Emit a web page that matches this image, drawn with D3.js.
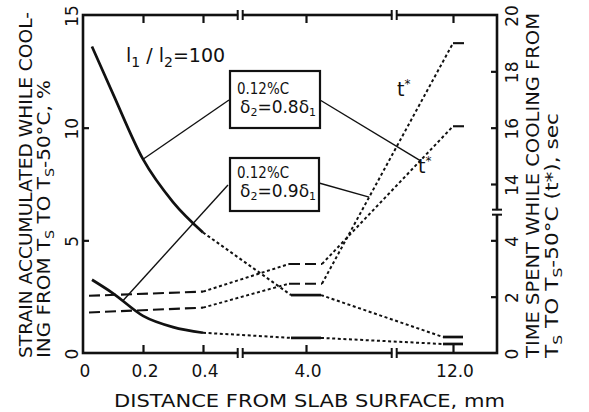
<!DOCTYPE html>
<html lang="en">
<head>
<meta charset="UTF-8">
<title>Strain and cooling time vs distance from slab surface</title>
<script src="https://d3js.org/d3.v7.min.js"></script>
<style>
  body { margin: 0; background: #fff; }
  svg text { font-family: "DejaVu Sans", "Liberation Sans", Arial, sans-serif; fill: #111; }
</style>
</head>
<body>
<div id="chart"></div>
<script>
// distance from slab surface (mm) for the strain curves
const distances = [0.03, 0.1, 0.2, 0.3, 0.4, 4.0, 12.0];
// strain accumulated while cooling (%)
const strain08 = [13.6, 11.5, 8.6, 6.7, 5.35, 2.57, 0.71];   // delta2 = 0.8 delta1
const strain09 = [3.25, 2.65, 1.65, 1.15, 0.9, 0.67, 0.4];   // delta2 = 0.9 delta1
// time spent while cooling t* (sec)
const timeDistances = [0.02, 0.4, 4.0, 12.0];
const time08 = [2.03, 2.18, 3.16, 16.05];
const time09 = [1.44, 1.61, 2.46, 19.0];

const xTicks = [0, 0.2, 0.4, 4.0, 12.0];
const xTickLabels = ["0", "0.2", "0.4", "4.0", "12.0"];
const strainTicks = [0, 5, 10, 15];
const timeTicks = [0, 2, 4, 14, 16, 18, 20];
const xBreaks = [1.7, 8.8];
const timeBreak = 9;

const W = 589, H = 412;
const frame = { left: 83, right: 497, top: 15, bottom: 353 };

const svg = d3.select("#chart").append("svg")
    .attr("width", W).attr("height", H);

// broken x axis: three linear pieces
const x = d3.scaleLinear()
    .domain([0, 0.4, 4.0, 12.0])
    .range([frame.left, 203, 306, 453]);

const yS = d3.scaleLinear().domain([0, 15]).range([frame.bottom, frame.top]);

// broken time axis: 0-4 and 14-20 with equal steps
const step = (frame.bottom - frame.top) / 6;
const yT = d3.scaleLinear()
    .domain([0, 4, 14, 20])
    .range([frame.bottom, frame.bottom - 2 * step, frame.bottom - 3 * step, frame.top]);

// axes (ticks pointing inward), labels drawn separately
const axisStyle = g => {
    g.select(".domain").remove();
    g.selectAll(".tick line").attr("stroke", "#111").attr("stroke-width", 2.2);
    g.selectAll(".tick text").remove();
};

svg.append("g")
    .attr("transform", `translate(0,${frame.bottom})`)
    .call(d3.axisBottom(x).tickValues(xTicks.slice(1)).tickSize(-8))
    .call(axisStyle);
svg.append("g")
    .attr("transform", `translate(0,${frame.top})`)
    .call(d3.axisTop(x).tickValues(xTicks.slice(1)).tickSize(-8))
    .call(axisStyle);
svg.append("g")
    .attr("transform", `translate(${frame.left},0)`)
    .call(d3.axisLeft(yS).tickValues(strainTicks.slice(1, -1)).tickSize(-6))
    .call(axisStyle);
svg.append("g")
    .attr("transform", `translate(${frame.right},0)`)
    .call(d3.axisRight(yT).tickValues(timeTicks.slice(1, -1)).tickSize(-6))
    .call(axisStyle);

// tick labels (y labels read bottom-to-top like the titles)
svg.selectAll(".xlab").data(xTicks).join("text")
    .attr("class", "xlab")
    .attr("x", d => x(d) + 2).attr("y", 377)
    .attr("text-anchor", "middle")
    .style("font-size", "17px")
    .text((d, i) => xTickLabels[i]);

svg.selectAll(".slab").data(strainTicks).join("text")
    .attr("class", "slab")
    .attr("transform", d => `translate(${frame.left - 5},${yS(d) + 1}) rotate(-90)`)
    .attr("text-anchor", "middle")
    .style("font-size", "17px")
    .text(d => d);

svg.selectAll(".tlab").data(timeTicks).join("text")
    .attr("class", "tlab")
    .attr("transform", d => `translate(${frame.right + 21},${yT(d) + 1}) rotate(-90)`)
    .attr("text-anchor", "middle")
    .style("font-size", "17px")
    .text(d => d);

// frame
svg.append("rect")
    .attr("x", frame.left).attr("y", frame.top)
    .attr("width", frame.right - frame.left)
    .attr("height", frame.bottom - frame.top)
    .attr("fill", "none").attr("stroke", "#111").attr("stroke-width", 2.6);

// axis break marks
function hBreak(px, py) {
    svg.append("rect").attr("x", px - 2).attr("y", py - 3).attr("width", 4).attr("height", 6).attr("fill", "#fff");
    [-2.5, 2.5].forEach(o => svg.append("line")
        .attr("x1", px + o).attr("x2", px + o).attr("y1", py - 5).attr("y2", py + 5)
        .attr("stroke", "#111").attr("stroke-width", 2));
}
function vBreak(px, py) {
    svg.append("rect").attr("x", px - 3).attr("y", py - 2).attr("width", 6).attr("height", 4).attr("fill", "#fff");
    [-2.5, 2.5].forEach(o => svg.append("line")
        .attr("x1", px - 5).attr("x2", px + 5).attr("y1", py + o).attr("y2", py + o)
        .attr("stroke", "#111").attr("stroke-width", 2));
}
xBreaks.forEach(d => { hBreak(x(d), frame.bottom); hBreak(x(d), frame.top); });
vBreak(frame.right, yT(timeBreak));

// curves
const line = d3.line();
const smooth = d3.line().curve(d3.curveMonotoneX);
const styles = {
    solid: { w: 2.7, dash: null },
    dashed: { w: 2.1, dash: "11,5" },
    dotted: { w: 2, dash: "3,2.6" }
};
function seg(pts, kind, gen) {
    const s = styles[kind];
    svg.append("path")
        .attr("d", (gen || line)(pts))
        .attr("fill", "none").attr("stroke", "#111")
        .attr("stroke-width", s.w)
        .attr("stroke-dasharray", s.dash);
}
const lerp = (p, q, t) => [p[0] + (q[0] - p[0]) * t, p[1] + (q[1] - p[1]) * t];

const strainFlat = [[-15, 15], [-10, 10]];
function drawStrain(vals) {
    const pts = distances.map((d, i) => [x(d), yS(vals[i])]);
    const [p4, p5, p6] = [pts[4], pts[5], pts[6]];
    const a5 = [p5[0] + strainFlat[0][0], p5[1]], b5 = [p5[0] + strainFlat[0][1], p5[1]];
    const a6 = [p6[0] + strainFlat[1][0], p6[1]], b6 = [p6[0] + strainFlat[1][1], p6[1]];
    seg(pts.slice(0, 5), "solid", smooth);
    seg([p4, a5], "dotted");
    seg([a5, b5], "solid");
    seg([b5, a6], "dotted");
    seg([a6, b6], "solid");
    return pts;
}

const timeFlat = [[-17, 16], [0, 15]];
function drawTime(vals) {
    const pts = timeDistances.map((d, i) => [x(d), yT(vals[i])]);
    const [p0, p1, p2, p3] = pts;
    const a2 = [p2[0] + timeFlat[0][0], p2[1]], b2 = [p2[0] + timeFlat[0][1], p2[1]];
    const a3 = [p3[0] + timeFlat[1][0], p3[1]], b3 = [p3[0] + timeFlat[1][1], p3[1]];
    seg([p0, p1], "dashed");
    seg([p1, a2], "dotted");
    seg([a2, b2], "dashed");
    seg([b2, a3], "dotted");
    seg([a3, b3], "dashed");
    return { rise: [b2, a3] };
}

const s08 = drawStrain(strain08);
const s09 = drawStrain(strain09);
const t08 = drawTime(time08);
const t09 = drawTime(time09);

// annotation boxes and leaders
const boxes = [
    { x0: 230, y0: 71, x1: 320, y1: 128, l1: 94, l2: 113, digit: "0.8",
      left: [229, 100], leftTo: s08[2],
      right: [320, 100], rightTo: lerp(t08.rise[0], t08.rise[1], 0.75) },
    { x0: 230, y0: 158, x1: 319, y1: 211, l1: 178, l2: 197, digit: "0.9",
      left: [228, 185], leftTo: lerp(s09[1], s09[2], 0.33),
      right: [319, 183], rightTo: lerp(t09.rise[0], t09.rise[1], 0.36) }
];
boxes.forEach(b => {
    [[b.left, b.leftTo], [b.right, b.rightTo]].forEach(([p, q]) =>
        svg.append("line").attr("x1", p[0]).attr("y1", p[1]).attr("x2", q[0]).attr("y2", q[1])
            .attr("stroke", "#111").attr("stroke-width", 1.4));
    svg.append("rect").attr("x", b.x0).attr("y", b.y0)
        .attr("width", b.x1 - b.x0).attr("height", b.y1 - b.y0)
        .attr("fill", "#fff").attr("stroke", "#111").attr("stroke-width", 2.2);
    svg.append("text").attr("x", b.x0 + 7).attr("y", b.l1)
        .attr("textLength", 52).attr("lengthAdjust", "spacingAndGlyphs")
        .style("font-size", "16px").text("0.12%C");
    const t = svg.append("text").attr("x", b.x0 + 10).attr("y", b.l2)
        .style("font-size", "17px");
    t.append("tspan").text("δ");
    t.append("tspan").attr("dy", 3).style("font-size", "11px").text("2");
    t.append("tspan").attr("dy", -3).text("=" + b.digit + "δ");
    t.append("tspan").attr("dy", 3).style("font-size", "11px").text("1");
});

// l1 / l2 = 100
const lt = svg.append("text").attr("x", 126).attr("y", 62)
    .style("font-size", "19px");
lt.append("tspan").text("l");
lt.append("tspan").attr("dy", 5).style("font-size", "14px").text("1");
lt.append("tspan").attr("dy", -5).text(" / l");
lt.append("tspan").attr("dy", 5).style("font-size", "14px").text("2");
lt.append("tspan").attr("dy", -5).text("=100");

// t* labels
[[397, 96], [418, 173]].forEach(([tx, ty]) => {
    const tt = svg.append("text").attr("x", tx).attr("y", ty).style("font-size", "19px");
    tt.append("tspan").text("t");
    tt.append("tspan").attr("dy", -8).style("font-size", "12px").text("*");
});

// axis titles
svg.append("text").attr("x", 114).attr("y", 407)
    .attr("textLength", 391).attr("lengthAdjust", "spacingAndGlyphs")
    .style("font-size", "18px").text("DISTANCE FROM SLAB SURFACE, mm");

function vTitle(bx, parts, len) {
    const t = svg.append("text")
        .attr("transform", `translate(${bx},358) rotate(-90)`)
        .attr("textLength", len).attr("lengthAdjust", "spacingAndGlyphs")
        .style("font-size", "18px");
    parts.forEach(p => t.append("tspan")
        .attr("dy", p.dy || 0)
        .style("font-size", p.sub ? "13px" : null)
        .text(p.s));
}
vTitle(32, [{ s: "STRAIN ACCUMULATED WHILE COOL-" }], 346);
vTitle(50, [{ s: "ING FROM T" }, { s: "S", sub: 1, dy: 4 }, { s: " TO T", dy: -4 },
    { s: "S", sub: 1, dy: 4 }, { s: "-50°C,  %", dy: -4 }], 278);
vTitle(539, [{ s: "TIME SPENT WHILE COOLING FROM" }], 345);
vTitle(558, [{ s: "T" }, { s: "S", sub: 1, dy: 4 }, { s: " TO T", dy: -4 },
    { s: "S", sub: 1, dy: 4 }, { s: "-50°C (t*),  sec", dy: -4 }], 245);
</script>
</body>
</html>
